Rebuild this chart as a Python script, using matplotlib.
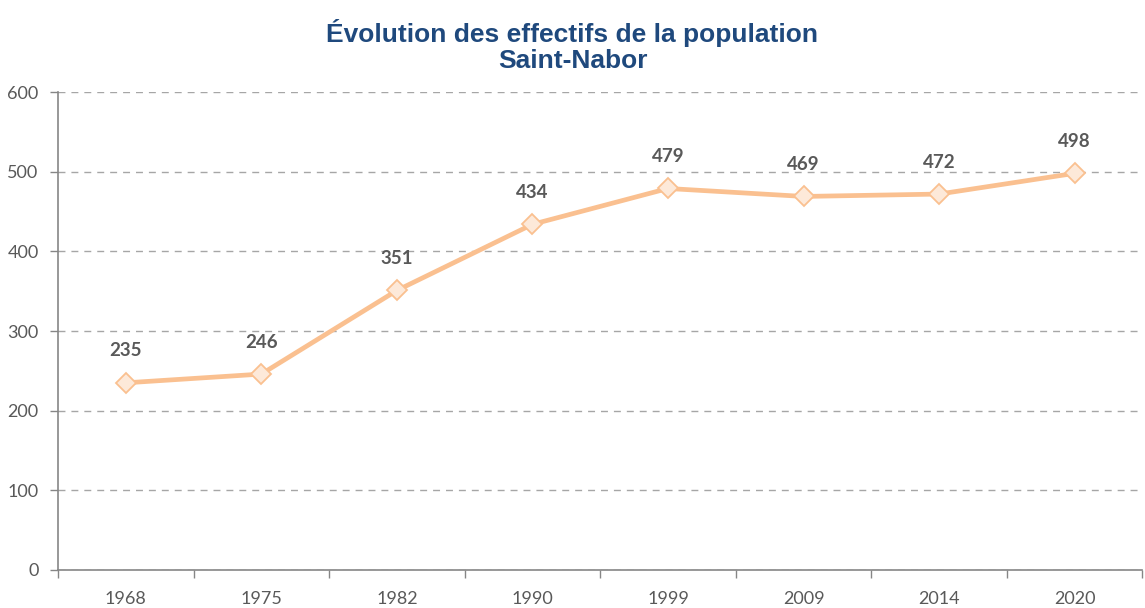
import matplotlib
matplotlib.use('Agg')
import matplotlib.pyplot as plt
from matplotlib.ticker import FixedLocator, NullFormatter

# Data
years = ['1968', '1975', '1982', '1990', '1999', '2009', '2014', '2020']
population = [235, 246, 351, 434, 479, 469, 472, 498]
yticks = [0, 100, 200, 300, 400, 500, 600]

line_color = '#FAC090'
marker_face = '#FDE9D9'
text_gray = '#595959'
title_color = '#1F497D'

fig = plt.figure(figsize=(11.45, 6.08), dpi=100, facecolor='white')
ax = fig.add_axes([0.0507, 0.0625, 0.947, 0.786])

x = list(range(len(years)))
ax.plot(x, population, color=line_color, linewidth=3.4, marker='D', markersize=10,
        markerfacecolor=marker_face, markeredgecolor=line_color, markeredgewidth=1.3,
        zorder=3, solid_joinstyle='round')

for xi, v in zip(x, population):
    ax.annotate(str(v), (xi, v), xytext=(0, 23), textcoords='offset points',
                ha='center', va='center', fontsize=13.5, fontweight='bold',
                color=text_gray, family='Lato')

ax.set_xlim(-0.5, len(years) - 0.5)
ax.set_ylim(0, 600)
ax.set_yticks(yticks)
ax.set_xticks(x)
ax.set_xticklabels(years)
ax.xaxis.set_minor_locator(FixedLocator([i - 0.5 for i in range(len(years) + 1)]))
ax.xaxis.set_minor_formatter(NullFormatter())
ax.tick_params(axis='x', which='major', length=0, pad=15, labelsize=13, labelcolor=text_gray)
ax.tick_params(axis='x', which='minor', length=6, width=1, color='#868686')
ax.tick_params(axis='y', length=6, width=1, color='#868686', pad=8,
               labelsize=13, labelcolor=text_gray)
for lab in ax.get_xticklabels() + ax.get_yticklabels():
    lab.set_family('Lato')

ax.grid(axis='y', color='#A6A6A6', linestyle=(0, (5, 4.3)), linewidth=1)
ax.set_axisbelow(True)
for side in ['top', 'right']:
    ax.spines[side].set_visible(False)
for side in ['left', 'bottom']:
    ax.spines[side].set_color('#868686')
    ax.spines[side].set_linewidth(1.2)

fig.text(0.5, 0.925, 'Évolution des effectifs de la population\nSaint-Nabor', ha='center',
         va='center', fontsize=19, fontweight='bold', color=title_color,
         family='Liberation Sans', linespacing=1.1)

fig.savefig('out.png', dpi=100)
